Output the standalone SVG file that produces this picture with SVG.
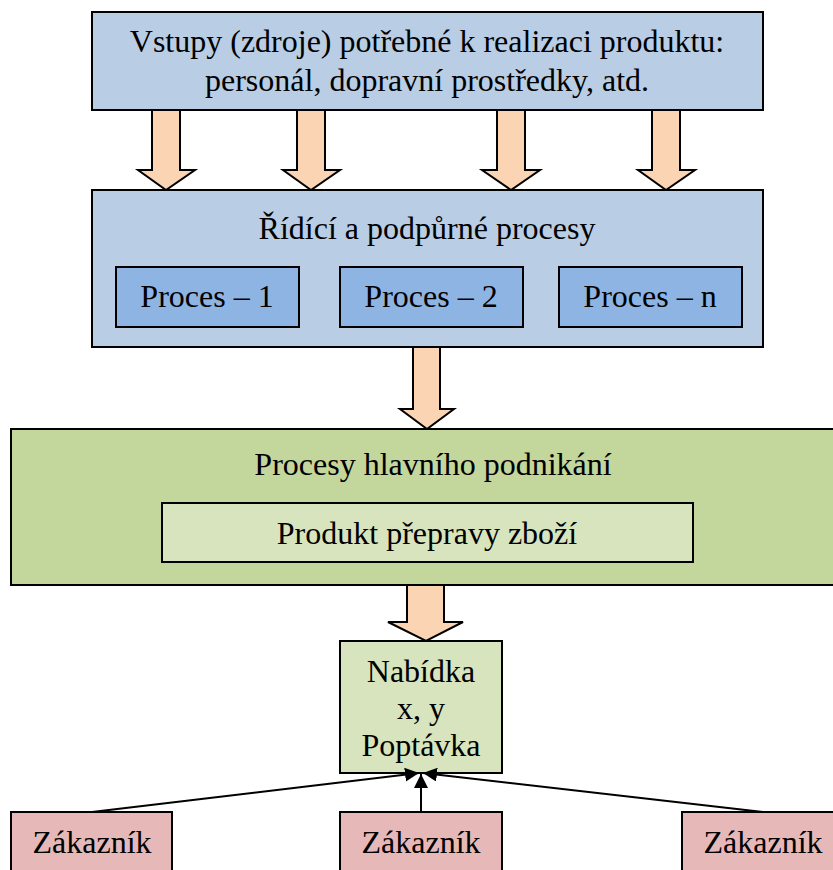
<svg xmlns="http://www.w3.org/2000/svg" width="833" height="870" viewBox="0 0 833 870">
  <style>
    .box, .flow { stroke: #000; stroke-width: 2; }
    text { font-family: "Liberation Serif", "Times New Roman", serif; font-size: 32px; fill: #000; text-anchor: middle; }
    .blue { fill: #b9cde5; }
    .proc { fill: #8eb4e3; }
    .green { fill: #c3d69b; }
    .lgreen { fill: #d7e4bd; }
    .pink { fill: #e6b9b8; }
    .flow { fill: #fbd4b4; stroke-linejoin: miter; }
    .link { stroke: #000; stroke-width: 2; fill: none; marker-end: url(#tip); }
  </style>
  <defs>
    <marker id="tip" viewBox="0 0 10 10" refX="10" refY="5" markerWidth="7" markerHeight="7" orient="auto" markerUnits="strokeWidth">
      <path d="M0,0 L10,5 L0,10 z" fill="#000"/>
    </marker>
  </defs>
  <rect width="833" height="870" fill="#fff"/>

  <!-- Block arrows between the layers -->
  <g id="flows">
    <path class="flow" d="M152,110 H180 V170 H195 L166,190 L138,170 H152 Z"/>
    <path class="flow" d="M297,110 H325 V170 H340 L311,190 L283,170 H297 Z"/>
    <path class="flow" d="M497,110 H525 V170 H540 L511,190 L482,170 H497 Z"/>
    <path class="flow" d="M652,110 H680 V170 H695 L666,190 L638,170 H652 Z"/>
    <path class="flow" d="M413,347 H440 V409 H454 L427,429 L400,409 H413 Z"/>
    <path class="flow" d="M407,562 H444 V622 H463 L426,641 L388,622 H407 Z"/>
  </g>

  <g id="inputs">
    <rect class="box blue" x="92" y="12" width="671" height="98"/>
    <text x="427" y="52">Vstupy (zdroje) potřebné k realizaci produktu:</text>
    <text x="427" y="91">personál, dopravní prostředky, atd.</text>
  </g>

  <g id="support">
    <rect class="box blue" x="92" y="190" width="671" height="157"/>
    <text x="427" y="239">Řídící a podpůrné procesy</text>
  </g>
  <g id="proces-1">
    <rect class="box proc" x="116" y="267" width="183" height="60"/>
    <text x="207" y="307">Proces – 1</text>
  </g>
  <g id="proces-2">
    <rect class="box proc" x="340" y="267" width="183" height="60"/>
    <text x="431" y="307">Proces – 2</text>
  </g>
  <g id="proces-n">
    <rect class="box proc" x="559" y="267" width="183" height="60"/>
    <text x="650" y="307">Proces – n</text>
  </g>

  <g id="core">
    <rect class="box green" x="11" y="429" width="860" height="156"/>
    <text x="433" y="475">Procesy hlavního podnikání</text>
  </g>
  <g id="product">
    <rect class="box lgreen" x="162" y="503" width="531" height="59"/>
    <text x="427" y="544">Produkt přepravy zboží</text>
  </g>

  <g id="market">
    <rect class="box lgreen" x="340" y="641" width="162" height="132"/>
    <text x="421" y="682">Nabídka</text>
    <text x="421" y="719">x, y</text>
    <text x="421" y="756">Poptávka</text>
  </g>

  <g id="connectors">
    <line class="link" x1="92" y1="812" x2="419" y2="773"/>
    <line class="link" x1="421" y1="812" x2="421" y2="774"/>
    <line class="link" x1="763" y1="812" x2="423" y2="773"/>
  </g>

  <g id="customer-1">
    <rect class="box pink" x="11" y="812" width="161" height="70"/>
    <text x="92" y="853">Zákazník</text>
  </g>
  <g id="customer-2">
    <rect class="box pink" x="340" y="812" width="162" height="70"/>
    <text x="421" y="853">Zákazník</text>
  </g>
  <g id="customer-3">
    <rect class="box pink" x="682" y="812" width="170" height="70"/>
    <text x="763" y="853">Zákazník</text>
  </g>
</svg>
